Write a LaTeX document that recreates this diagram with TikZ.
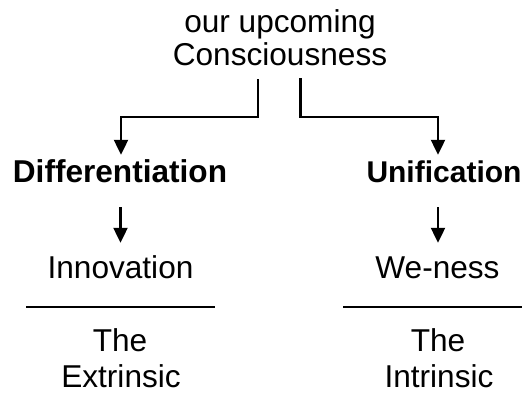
\documentclass[tikz,border=0pt]{standalone}
\usepackage{fontspec}
\setmainfont{Liberation Sans}
\usetikzlibrary{arrows.meta,calc}
\begin{document}
\begin{tikzpicture}[x=1pt,y=-1pt,
  txt/.style={font=\fontsize{31.6}{36}\selectfont, inner sep=0pt, text height=22pt, text depth=0pt, anchor=base},
  bold/.style={txt, font=\fontsize{31.6}{36}\selectfont\bfseries},
  conn/.style={line width=2.2pt, -{Triangle[width=14pt,length=15pt]}},
  rule/.style={line width=2pt}]
\useasboundingbox (0,0) rectangle (522,394);
\node[txt] (top1) at (280,32) {our upcoming};
\node[txt] (top) at (280,65) {Consciousness};
\node[bold] (diff) at (120,182) {Differentiation};
\node[bold, font=\fontsize{30}{36}\selectfont\bfseries] (unif) at (444,182) {Unification};
\node[txt] (innov) at (120.5,278) {Innovation};
\node[txt] (wen) at (437.5,278) {We-ness};
\node[txt] (the1) at (120,351) {The};
\node[txt] (ext) at (121,387.5) {Extrinsic};
\node[txt] (the2) at (438,351) {The};
\node[txt] (intr) at (439,387.5) {Intrinsic};
\draw[conn] ([shift={(-22pt,-14pt)}]top.south) -- ++(0,-38pt) -| ([shift={(1pt,5pt)}]diff.north);
\draw[conn] ([shift={(20.5pt,-13pt)}]top.south) -- ++(0,-39pt) -| ([shift={(-6pt,5pt)}]unif.north);
\draw[conn] ($(diff.south -| innov.north)+(0,-25pt)$) -- ([yshift=13pt]innov.north);
\draw[conn] ($(unif.south -| wen.north)+(0.5pt,-25pt)$) -- ([shift={(0.5pt,13pt)}]wen.north);
\draw[rule] (26,307) -- (215,307);
\draw[rule] (343,307) -- (522,307);
\end{tikzpicture}
\end{document}
